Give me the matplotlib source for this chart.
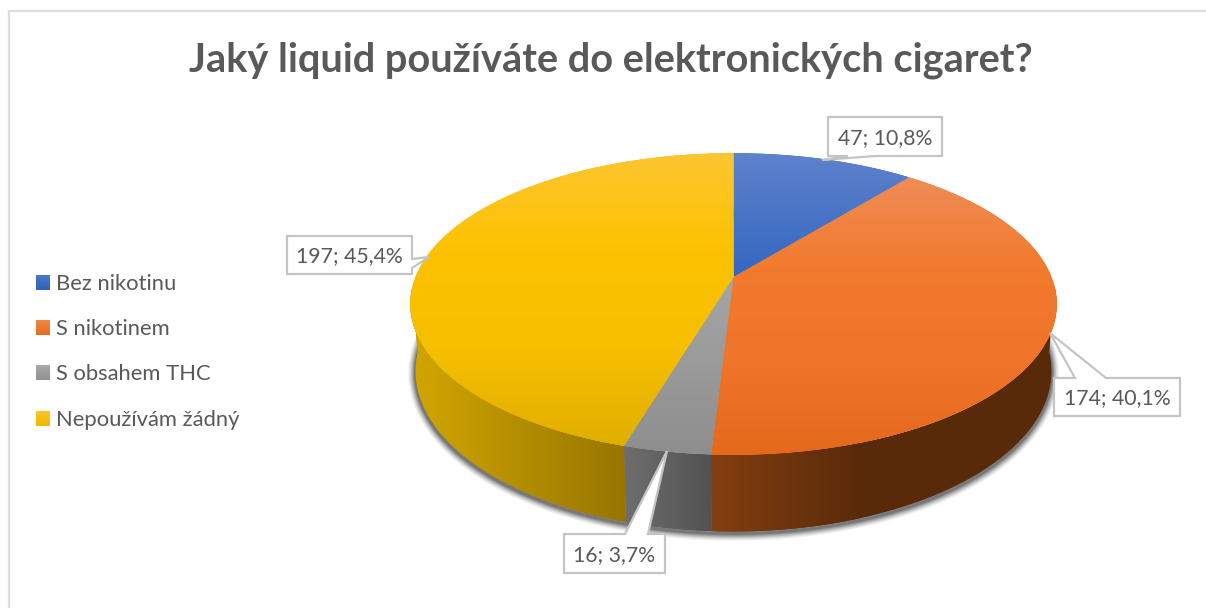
import numpy as np
import matplotlib
matplotlib.use("Agg")
import matplotlib.pyplot as plt
from matplotlib.patches import Polygon
from matplotlib.colors import LinearSegmentedColormap as LSC

plt.rcParams['font.family'] = ['Lato', 'DejaVu Sans']

title = "Jaký liquid používáte do elektronických cigaret?"
categories = ["Bez nikotinu", "S nikotinem", "S obsahem THC", "Nepoužívám žádný"]
values = [47, 174, 16, 197]
labels = ["47; 10,8%", "174; 40,1%", "16; 3,7%", "197; 45,4%"]

top_colors = [["#5f82cc", "#3367c1"],
              ["#ef8c56", "#f27a2c", "#f0742a", "#e4691b"],
              ["#a6a6a6", "#8e8e8e"],
              ["#fec631", "#fcc200", "#f6bf00", "#e1af00"]]
side_colors = [["#3a5f9e", "#2a4a80"], ["#843f10", "#592a0a"], ["#6e6e6e", "#525252"], ["#d2a600", "#977600"]]
legend_colors = [["#4d78c8", "#2f62b8"], ["#f0894a", "#e86a1c"], ["#aaaaaa", "#8f8f8f"], ["#fdc72e", "#f2b800"]]

W, H = 1206, 608
fig = plt.figure(figsize=(W / 100, H / 100), dpi=100)
ax = fig.add_axes([0, 0, 1, 1])
ax.set_xlim(0, W)
ax.set_ylim(H, 0)
ax.axis("off")

CX, CY, RX, A, K, D, Hd = 733.5, 277, 318, 146, 0.179, 0.016, 67


def proj(t, lower=False):
    u, v = np.sin(t), -np.cos(t)
    if lower:
        w = 1 - K * v + D
        return CX + RX * u / w, CY + (A * v + Hd) / w
    w = 1 - K * v
    return CX + RX * u / w, CY + A * v / w


def gradient(poly, stops, horizontal=False, extent=None, z=3):
    cmap = LSC.from_list("g", stops)
    g = np.linspace(0, 1, 256)
    g = g.reshape(1, -1) if horizontal else g.reshape(-1, 1)
    xs, ys = poly[:, 0], poly[:, 1]
    if extent is None:
        extent = (xs.min(), xs.max(), ys.max(), ys.min())
    im = ax.imshow(g, cmap=cmap, extent=extent, aspect="auto", zorder=z, interpolation="bilinear")
    # solid fill under the gradient, so nothing shows past the gradient's extent
    patch = Polygon(poly, closed=True, fc=stops[-1], ec="none", zorder=z - 0.1)
    ax.add_patch(patch)
    im.set_clip_path(patch)
    return im


# frame
ax.plot([8.5, 8.5, 1206], [H, 10.5, 10.5], color="#dedede", lw=1.7, zorder=1, solid_joinstyle="miter")

fracs = np.array(values) / sum(values)
edges = np.concatenate([[0], np.cumsum(fracs)]) * 2 * np.pi

# soft shadow below the lower rim
tt = np.linspace(0, 2 * np.pi, 500)
lx, ly = proj(tt, True)
for lw, al in zip([15, 13, 11, 9, 7, 5, 3], [.05, .07, .09, .12, .15, .2, .25]):
    ax.plot(lx, ly + 2, color="#303030", lw=lw * 0.72, alpha=al, zorder=2)

# side walls
for i in range(4):
    t = np.linspace(edges[i], edges[i + 1], 200)
    t = t[(-np.cos(t) > 0.05)]
    if len(t) < 2:
        continue
    x0, y0 = proj(t)
    x1, y1 = proj(t[::-1], True)
    poly = np.column_stack([np.r_[x0, x1], np.r_[y0, y1]])
    ext = (711, 860, 560, 300) if i == 1 else None
    gradient(poly, side_colors[i], horizontal=True, extent=ext)

# top faces
for i in range(4):
    t = np.linspace(edges[i], edges[i + 1], 300)
    x, y = proj(t)
    poly = np.column_stack([np.r_[CX, x], np.r_[CY, y]])
    gradient(poly, top_colors[i], z=4)

# callouts
boxes = [(828, 117, 942, 156), (1054, 378, 1180, 416), (564, 534, 665, 573), (287, 236, 412, 274)]
tips = [(822, 160), (1050, 333), (667, 451), (429, 257)]
bases = [((848, 156), (875, 156)), ((1075, 378), (1106, 378)), ((625, 534), (648, 534)), ((412, 259), (412, 268))]
sides = ["bottom", "top", "top", "right"]
for box, tip, base, side, lab in zip(boxes, tips, bases, sides, labels):
    x0, y0, x1, y1 = box
    (a, b), (c, d) = base
    if side == "bottom":
        pts = [(x0, y0), (x1, y0), (x1, y1), (c, d), tip, (a, b), (x0, y1)]
    elif side == "top":
        pts = [(x0, y0), (a, b), tip, (c, d), (x1, y0), (x1, y1), (x0, y1)]
    else:
        pts = [(x0, y0), (x1, y0), (a, b), tip, (c, d), (x1, y1), (x0, y1)]
    ax.add_patch(Polygon(pts, closed=True, fc="white", ec="#c4c4c4", lw=1.6, zorder=6, joinstyle="miter"))
    ax.text((x0 + x1) / 2, (y0 + y1) / 2 + 1.5, lab, ha="center", va="center", color="#595959",
            fontsize=15.3, zorder=7)

# legend
ly_pos = [282.5, 327.5, 372.5, 418]
for name, yy, stops in zip(categories, ly_pos, legend_colors):
    sq = np.array([(36, yy - 7.5), (50, yy - 7.5), (50, yy + 7.5), (36, yy + 7.5)])
    gradient(sq, stops, z=5)
    ax.text(56, yy + 1.5, name, ha="left", va="center", color="#595959", fontsize=15.8)

ax.text(611, 60.5, title, ha="center", va="center", color="#595959", fontsize=28.6, fontweight="bold")

ax.set_xlim(0, W)
ax.set_ylim(H, 0)
fig.savefig("out.png", dpi=100, facecolor="white")
